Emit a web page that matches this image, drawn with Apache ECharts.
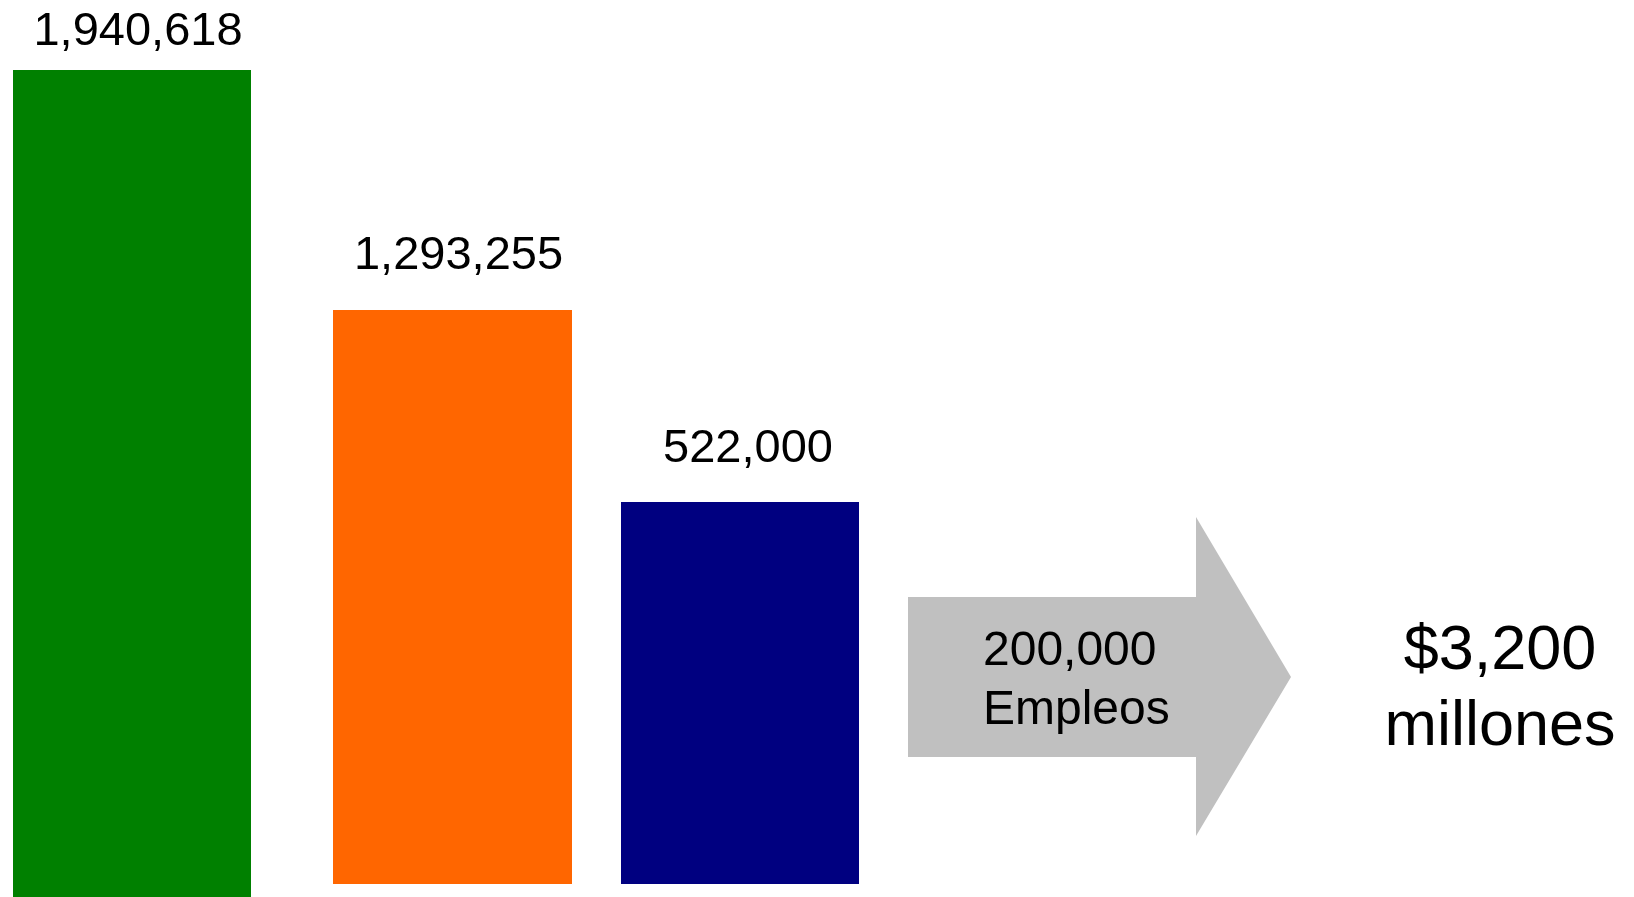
<!DOCTYPE html>
<html>
<head>
<meta charset="utf-8">
<script src="https://cdn.jsdelivr.net/npm/echarts@6/dist/echarts.min.js"></script>
<style>
  html, body { margin: 0; padding: 0; background: #ffffff; }
  #chart { width: 1634px; height: 897px; }
</style>
</head>
<body>
<div id="chart"></div>
<script>
// ---- data ----
const categories = ['A', 'B', 'C'];
const values = [1940618, 1293255, 522000];
const arrowLines = ['200,000', 'Empleos'];
const resultLines = ['$3,200', 'millones'];

// ---- styles / layout ----
const colors = ['#008000', '#FF6600', '#000080'];
const FONT = '"Liberation Sans", Arial, Helvetica, sans-serif';
// each bar sits in its own panel (the original infographic draws them at independent scales)
const panels = [
  { left: 13,  width: 238, top: 70, bottom: 0,  max: 1940618, dx: 6, dist: 14 },
  { left: 333, width: 239, top: 70, bottom: 13, max: 1834000, dx: 6, dist: 30 },
  { left: 621, width: 238, top: 70, bottom: 13, max: 1112300, dx: 8, dist: 29 }
];

const fmt = v => v.toLocaleString('en-US');

const chart = echarts.init(document.getElementById('chart'), null, { renderer: 'canvas' });

const grid = panels.map(p => ({ left: p.left, width: p.width, top: p.top, bottom: p.bottom, containLabel: false }));
const xAxis = panels.map((p, i) => ({
  type: 'category', gridIndex: i, data: [categories[i]],
  show: false, boundaryGap: true
}));
const yAxis = panels.map((p, i) => ({
  type: 'value', gridIndex: i, min: 0, max: p.max, show: false
}));
const series = panels.map((p, i) => ({
  type: 'bar',
  xAxisIndex: i, yAxisIndex: i,
  barWidth: '100%',
  data: [values[i]],
  itemStyle: { color: colors[i] },
  silent: true,
  label: {
    show: true,
    position: 'top',
    distance: p.dist,
    offset: [p.dx, 0],
    formatter: params => fmt(params.value),
    fontFamily: FONT,
    fontSize: 47,
    lineHeight: 47,
    color: '#000000'
  }
}));

chart.setOption({
  animation: false,
  backgroundColor: '#ffffff',
  grid, xAxis, yAxis, series,
  graphic: [
    {
      type: 'polygon',
      shape: {
        points: [[908, 597], [1196, 597], [1196, 517], [1291, 677], [1196, 836], [1196, 757], [908, 757]]
      },
      style: { fill: '#C0C0C0' },
      silent: true
    },
    {
      type: 'text',
      x: 983, y: 681,
      style: {
        text: arrowLines.join('\n'),
        font: '48px ' + FONT,
        lineHeight: 59,
        fill: '#000000',
        align: 'left',
        verticalAlign: 'middle'
      },
      silent: true
    },
    {
      type: 'text',
      x: 1500, y: 690,
      style: {
        text: resultLines.join('\n'),
        font: '63px ' + FONT,
        lineHeight: 76,
        fill: '#000000',
        align: 'center',
        verticalAlign: 'middle'
      },
      silent: true
    }
  ]
});
</script>
</body>
</html>
